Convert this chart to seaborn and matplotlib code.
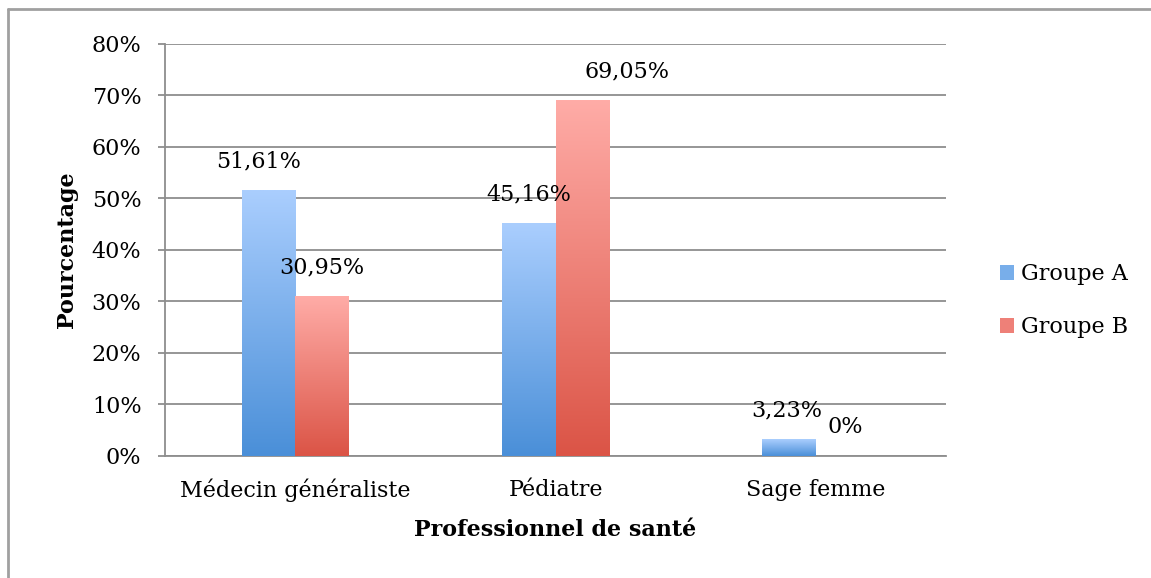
import numpy as np
import pandas as pd
import matplotlib
matplotlib.use('Agg')
import matplotlib.pyplot as plt
import seaborn as sns
from matplotlib.colors import LinearSegmentedColormap
from matplotlib.lines import Line2D
from matplotlib.patches import Patch

# --- Data ---
categories = ['Médecin généraliste', 'Pédiatre', 'Sage femme']
groupe_a = [51.61, 45.16, 3.23]
groupe_b = [30.95, 69.05, 0.0]
groups = ['Groupe A', 'Groupe B']
labels_a = ['51,61%', '45,16%', '3,23%']
labels_b = ['30,95%', '69,05%', '0%']

df = pd.DataFrame({
    'cat': categories * 2,
    'val': groupe_a + groupe_b,
    'grp': [groups[0]] * 3 + [groups[1]] * 3,
})

# --- Style ---
sns.set_style('white')
plt.rcParams['font.family'] = ['DejaVu Serif']
plt.rcParams['text.color'] = 'black'
plt.rcParams['axes.labelcolor'] = 'black'
plt.rcParams['xtick.color'] = 'black'
plt.rcParams['ytick.color'] = 'black'
grad_cols = {
    'Groupe A': ('#4a8fd8', '#aacefe'),
    'Groupe B': ('#db5446', '#ffaca7'),
}
grid_col = '#8e8e8e'
fs = 16

fig = plt.figure(figsize=(11.51, 5.78), dpi=100)
ax = fig.add_axes([0.1434, 0.2111, 0.8219 - 0.1434, 0.9239 - 0.2111])

sns.barplot(data=df, x='cat', y='val', hue='grp', order=categories,
            hue_order=groups, width=0.41, gap=0, ax=ax, legend=False,
            palette=[grad_cols[g][0] for g in groups])

ax.set_ylim(0, 80)
ax.set_xlim(-0.5, 2.5)
ax.set_yticks(np.arange(0, 81, 10))
ax.set_yticklabels([f'{t}%' for t in range(0, 81, 10)])
ax.yaxis.grid(True, color=grid_col, linewidth=1.3)
ax.set_axisbelow(True)
for s in ['top', 'right']:
    ax.spines[s].set_visible(False)
for s in ['left', 'bottom']:
    ax.spines[s].set_color(grid_col)
    ax.spines[s].set_linewidth(1.3)
ax.tick_params(axis='y', which='major', left=True, length=5, width=1.3,
               color=grid_col, labelcolor='black', labelsize=fs, pad=12)
ax.tick_params(axis='x', bottom=False, labelcolor='black', labelsize=fs, pad=13)
ax.set_xlabel('Professionnel de santé', fontsize=fs, fontweight='bold', labelpad=12)
ax.set_ylabel('Pourcentage', fontsize=fs, fontweight='bold', labelpad=10)

# gradient fill for each bar
bars = list(ax.patches)
bar_groups = [groups[0]] * 3 + [groups[1]] * 3
for p, g in zip(bars, bar_groups):
    x, w, h = p.get_x(), p.get_width(), p.get_height()
    if h <= 0:
        continue
    cmap = LinearSegmentedColormap.from_list(g, grad_cols[g])
    grad = np.linspace(0, 1, 256).reshape(-1, 1)
    ax.imshow(grad, extent=[x, x + w, 0, h], origin='lower', aspect='auto',
              cmap=cmap, zorder=3)
    p.set_visible(False)
ax.set_xlim(-0.5, 2.5)
ax.set_ylim(0, 80)

# data labels
label_dx = [-7, 0, -2, 0, 32, 2]
all_labels = labels_a + labels_b
for i, (p, txt) in enumerate(zip(bars, all_labels)):
    cx = p.get_x() + p.get_width() / 2
    ax.annotate(txt, (cx, p.get_height()), xytext=(label_dx[i], 21),
                textcoords='offset points', ha='center', va='center',
                fontsize=fs, color='black', zorder=5)

# legend
handles = [Patch(facecolor='#78aeea', edgecolor='none'),
           Patch(facecolor='#ee8078', edgecolor='none')]
fig.legend(handles, groups, loc='center left', bbox_to_anchor=(0.851, 0.48),
           frameon=False, fontsize=fs, handlelength=0.65, handleheight=0.65,
           handletextpad=0.3, labelspacing=1.4)

# outer frame
fig.add_artist(Line2D([0.007, 0.007], [0, 0.985], color='#a0a0a0', lw=2))
fig.add_artist(Line2D([0.007, 1.0], [0.985, 0.985], color='#a0a0a0', lw=2))

plt.savefig('out.png', dpi=100)
